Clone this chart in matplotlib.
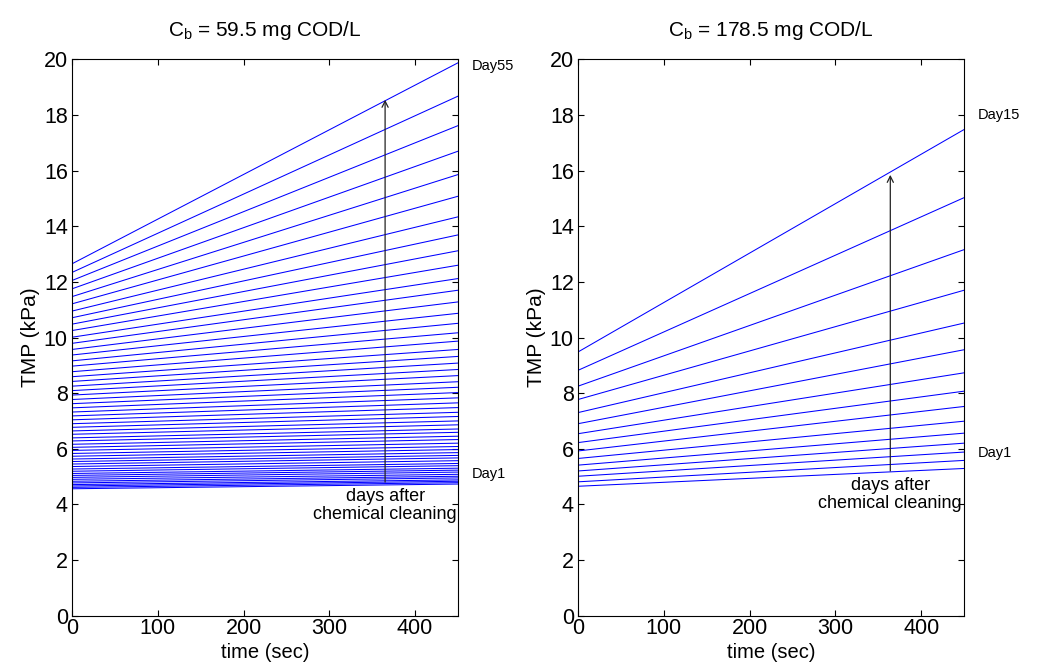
import matplotlib
matplotlib.use("Agg")
import matplotlib.pyplot as plt

plt.rcParams['font.family'] = ['Liberation Sans', 'DejaVu Sans']
plt.rcParams['mathtext.fontset'] = 'custom'
plt.rcParams['mathtext.rm'] = 'Liberation Sans'
plt.rcParams['mathtext.it'] = 'Liberation Sans:italic'

# Filtration time span of each cycle (sec)
t_start = 0
t_end = 450

# Cb = 59.5 mg COD/L : TMP at start / end of cycle, Day1 ... Day55 (kPa)
tmp_start_low = [
    4.56, 4.61, 4.66, 4.71, 4.77, 4.83, 4.90, 4.97, 5.04, 5.11,
    5.19, 5.27, 5.36, 5.45, 5.54, 5.63, 5.73, 5.83, 5.94, 6.05,
    6.16, 6.28, 6.39, 6.52, 6.64, 6.77, 6.90, 7.04, 7.18, 7.32,
    7.47, 7.62, 7.77, 7.93, 8.09, 8.25, 8.42, 8.59, 8.77, 8.97,
    9.16, 9.37, 9.57, 9.79, 10.01, 10.25, 10.48, 10.71, 10.95, 11.21,
    11.47, 11.75, 12.05, 12.34, 12.65,
]
tmp_end_low = [
    4.73, 4.78, 4.83, 4.88, 4.95, 5.01, 5.08, 5.16, 5.23, 5.30,
    5.39, 5.47, 5.57, 5.67, 5.76, 5.86, 5.97, 6.08, 6.20, 6.33,
    6.45, 6.59, 6.71, 6.86, 7.00, 7.16, 7.31, 7.48, 7.65, 7.83,
    8.02, 8.21, 8.41, 8.63, 8.85, 9.08, 9.32, 9.57, 9.87, 10.17,
    10.51, 10.87, 11.28, 11.70, 12.12, 12.60, 13.12, 13.69, 14.34, 15.08,
    15.86, 16.70, 17.62, 18.68, 19.88,
]

# Cb = 178.5 mg COD/L : TMP at start / end of cycle, Day1 ... Day15 (kPa)
tmp_start_high = [4.65, 4.81, 5.01, 5.20, 5.41, 5.65, 5.92, 6.22, 6.54, 6.90,
                  7.30, 7.77, 8.25, 8.82, 9.48]
tmp_end_high = [5.29, 5.58, 5.88, 6.20, 6.56, 6.99, 7.52, 8.07, 8.73, 9.56,
                10.52, 11.70, 13.16, 15.03, 17.48]

titles = [r'C$_\mathrm{b}$ = 59.5 mg COD/L', r'C$_\mathrm{b}$ = 178.5 mg COD/L']
last_day_labels = ['Day55', 'Day15']

fig = plt.figure(figsize=(10.4, 6.68), dpi=100)
ax_l = fig.add_axes([0.0692, 0.0785, 0.3712, 0.8325])
ax_r = fig.add_axes([0.5558, 0.0785, 0.3712, 0.8325])

# (axes, start, end, y of last-day label, y of Day1 label,
#  arrow bottom, arrow top, arrow x, y of caption centre)
panels = [
    (ax_l, tmp_start_low, tmp_end_low, 19.75, 5.1, 4.8, 18.55, 365, 3.95),
    (ax_r, tmp_start_high, tmp_end_high, 18.0, 5.85, 5.2, 15.85, 364, 4.35),
]

for i, (ax, s, e, y_last, y_first, arr_lo, arr_hi, arr_x, cap_y) in enumerate(panels):
    for a, b in zip(s, e):
        ax.plot([t_start, t_end], [a, b], color='#0000ff', lw=0.75)
    ax.set_xlim(0, 450)
    ax.set_ylim(0, 20)
    ax.set_xticks([0, 100, 200, 300, 400])
    ax.set_yticks(range(0, 21, 2))
    ax.tick_params(direction='in', top=True, right=True, length=4, width=0.8,
                   labelsize=15.5)
    ax.tick_params(axis='x', pad=1.5)
    ax.tick_params(axis='y', pad=3)
    for sp in ax.spines.values():
        sp.set_linewidth(0.8)
    ax.set_xlabel('time (sec)', fontsize=14.5, labelpad=3)
    ax.set_ylabel('TMP (kPa)', fontsize=15, labelpad=3)
    ax.set_title(titles[i], fontsize=15, pad=17)

    ax.text(466, y_last, last_day_labels[i], fontsize=10.5, va='center',
            ha='left', clip_on=False)
    ax.text(466, y_first, 'Day1', fontsize=10.5, va='center', ha='left',
            clip_on=False)
    ax.annotate('', xy=(arr_x, arr_hi), xytext=(arr_x, arr_lo),
                arrowprops=dict(arrowstyle='->', color='#222222', lw=0.9,
                                mutation_scale=11, shrinkA=0, shrinkB=0))
    ax.text(arr_x, cap_y, 'days after\nchemical cleaning', fontsize=13,
            ha='center', va='center', linespacing=1.1, clip_on=False)

fig.savefig('out.png', dpi=100)
